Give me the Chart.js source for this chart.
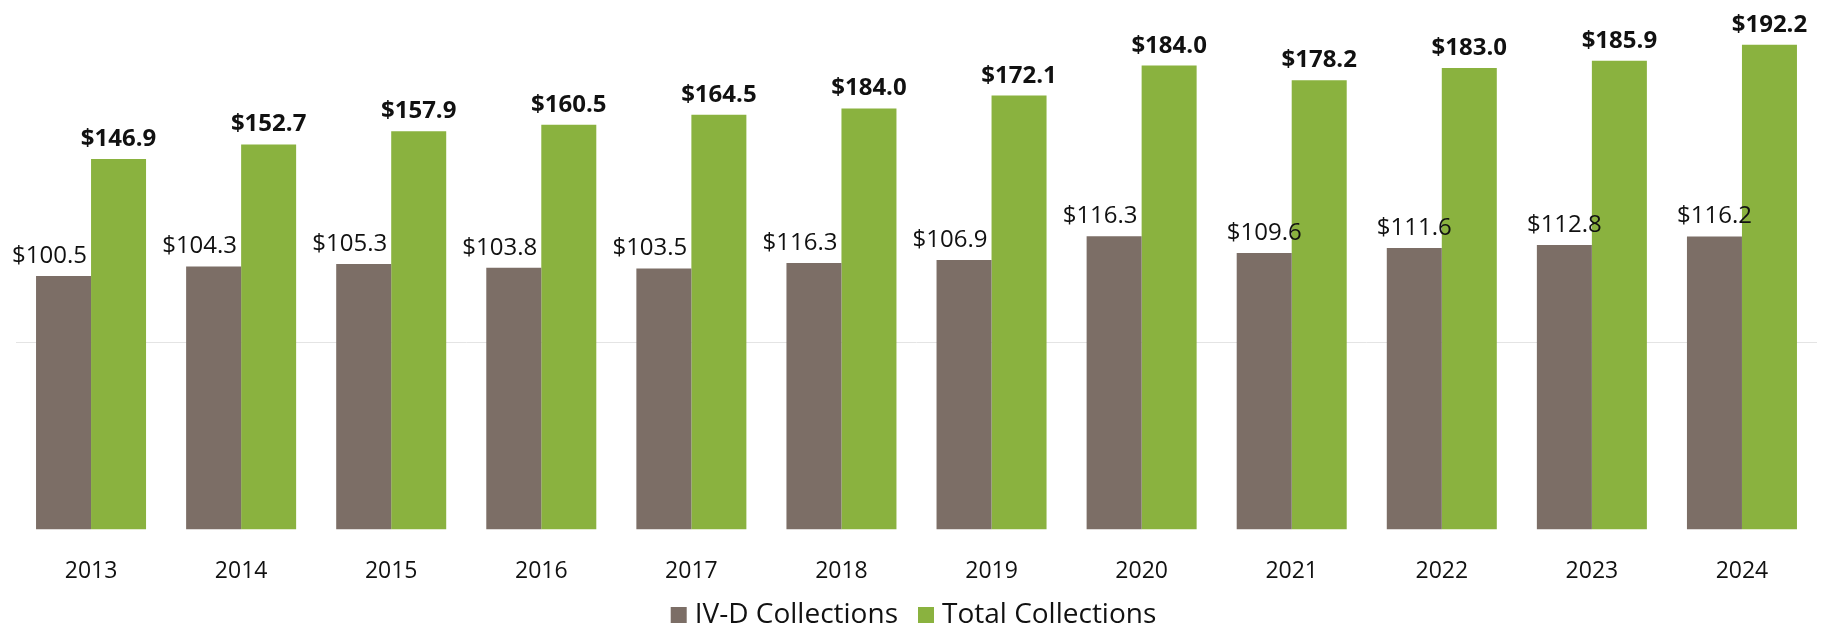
<!DOCTYPE html>
<html>
<head>
<meta charset="utf-8">
<script src="https://cdn.jsdelivr.net/npm/chart.js@4.4.1/dist/chart.umd.min.js"></script>
<style>
  html, body { margin: 0; padding: 0; background: #fff; }
  #wrap { width: 1830px; height: 634px; position: relative; }
</style>
</head>
<body>
<div id="wrap"><canvas id="collChart"></canvas></div>
<script>
// years on the x axis
var years = ['2013', '2014', '2015', '2016', '2017', '2018', '2019', '2020', '2021', '2022', '2023', '2024'];

// bar heights (2018 bars are shorter than their printed labels)
var ivdValues   = [100.5, 104.3, 105.3, 103.8, 103.5, 105.7, 106.9, 116.3, 109.6, 111.6, 112.8, 116.2];
var totalValues = [146.9, 152.7, 157.9, 160.5, 164.5, 167.0, 172.1, 184.0, 178.2, 183.0, 185.9, 192.2];

// the value labels exactly as printed above the bars
var ivdLabels   = ['$100.5', '$104.3', '$105.3', '$103.8', '$103.5', '$116.3', '$106.9', '$116.3', '$109.6', '$111.6', '$112.8', '$116.2'];
var totalLabels = ['$146.9', '$152.7', '$157.9', '$160.5', '$164.5', '$184.0', '$172.1', '$184.0', '$178.2', '$183.0', '$185.9', '$192.2'];

// the one faint gridline in the picture
var gridValues = [74];

var FONT = '"Open Sans", "Noto Sans", sans-serif';

// draws the $ labels over each bar
var valueLabels = {
    id: 'valueLabels',
    afterDatasetsDraw: function(chart) {
        var ctx = chart.ctx;
        ctx.save();
        ctx.textAlign = 'center';
        ctx.textBaseline = 'alphabetic';
        ctx.fillStyle = '#111111';

        chart.getDatasetMeta(0).data.forEach(function(bar, i) {
            // the first eight IV-D labels sit a little left of their bar
            var shift = i < 8 ? -14 : 0;
            ctx.font = '24px ' + FONT;
            ctx.fillText(ivdLabels[i], bar.x + shift, bar.y - 13);
        });

        chart.getDatasetMeta(1).data.forEach(function(bar, i) {
            ctx.font = 'bold 24px ' + FONT;
            ctx.fillText(totalLabels[i], bar.x, bar.y - 13);
        });
        ctx.restore();
    }
};

// legend items want wide spacing but a short box:
// give the legend a fixed height and nudge where it draws
var tightLegend = {
    id: 'tightLegend',
    afterInit: function(chart) {
        var legend = chart.legend;
        if (!legend) return;
        var fit = legend.fit;
        var draw = legend.draw;
        legend.fit = function() {
            fit.call(this);
            this.height = 55;
        };
        legend.draw = function() {
            this.ctx.save();
            this.ctx.translate(0, -4);
            draw.call(this);
            this.ctx.restore();
        };
    }
};

const ctx = document.getElementById('collChart');
new Chart(ctx, {
    type: 'bar',
    data: {
        labels: years,
        datasets: [{
            label: 'IV-D Collections',
            data: ivdValues,
            backgroundColor: '#7c6e66',
            categoryPercentage: 0.733,
            barPercentage: 1.0
        }, {
            label: 'Total Collections',
            data: totalValues,
            backgroundColor: '#8ab23f',
            categoryPercentage: 0.733,
            barPercentage: 1.0
        }]
    },
    options: {
        responsive: true,
        maintainAspectRatio: false,
        animation: false,
        layout: {
            padding: { left: 16, right: 13, top: 0, bottom: 0 }
        },
        plugins: {
            tooltip: { enabled: false },
            legend: {
                position: 'bottom',
                labels: {
                    usePointStyle: true,
                    pointStyle: 'rect',
                    boxWidth: 4,
                    boxHeight: 16,
                    padding: 26,
                    color: '#111111',
                    font: { family: FONT, size: 28 }
                }
            }
        },
        scales: {
            x: {
                grid: { display: false },
                border: { display: false },
                ticks: {
                    color: '#111111',
                    padding: 20,
                    font: { family: FONT, size: 23 }
                },
                afterFit: function(axis) {
                    axis.height -= 26;
                }
            },
            y: {
                min: 0,
                max: 210,
                border: { display: false },
                grid: { color: '#e4e4e4', drawTicks: false },
                ticks: { display: false },
                afterBuildTicks: function(axis) {
                    axis.ticks = gridValues.map(function(v) { return { value: v }; });
                }
            }
        }
    },
    plugins: [valueLabels, tightLegend]
});
</script>
</body>
</html>
